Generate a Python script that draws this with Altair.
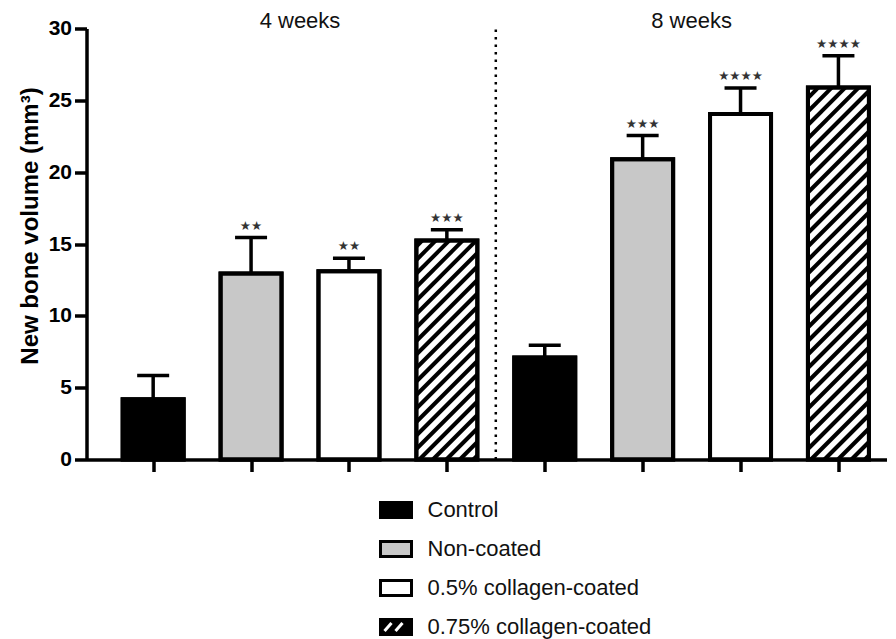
import altair as alt
import pandas as pd
import numpy as np

# ---------------- data ----------------
weeks = ["4 weeks", "8 weeks"]
groups = ["Control", "Non-coated", "0.5% collagen-coated", "0.75% collagen-coated"]
means_4w = [4.2, 12.95, 13.1, 15.25]
means_8w = [7.1, 20.9, 24.05, 25.9]
sd_4w = [1.65, 2.5, 0.9, 0.75]
sd_8w = [0.85, 1.65, 1.8, 2.2]
stars_4w = ["", "**", "**", "***"]
stars_8w = ["", "***", "****", "****"]
y_ticks = [0, 5, 10, 15, 20, 25, 30]

# ---------------- layout constants ----------------
W, H = 800, 431
X_DOMAIN = [0.319, 8.491]
Y_DOMAIN = [0, 30]
BAR_W = 61
HATCH_STEP = 13.5
FONT = "Liberation Sans"

rows = []
for wi, (wk, ms, sds, st) in enumerate(zip(weeks, [means_4w, means_8w], [sd_4w, sd_8w], [stars_4w, stars_8w])):
    for gi, g in enumerate(groups):
        rows.append(dict(week=wk, group=g, pos=wi * len(groups) + gi + 1,
                         mean=ms[gi], top=ms[gi] + sds[gi],
                         stars=st[gi].replace("*", "\u2605")))
df = pd.DataFrame(rows)

# hatch lines for the 0.75% bars (45 degree in pixel space)
kx = W / (X_DOMAIN[1] - X_DOMAIN[0])
ky = H / (Y_DOMAIN[1] - Y_DOMAIN[0])
hatch = []
for _, r in df[df.group == groups[3]].iterrows():
    hp = r["mean"] * ky
    wp = BAR_W
    t = -wp + 4
    while t < hp:
        u0 = max(0.0, -t)
        u1 = min(wp, hp - t)
        if u1 - u0 > 0.5:
            hatch.append(dict(x0=r.pos + (u0 - wp / 2) / kx, y0=(u0 + t) / ky,
                              x1=r.pos + (u1 - wp / 2) / kx, y1=(u1 + t) / ky))
        t += HATCH_STEP
hatch_df = pd.DataFrame(hatch)

week_df = df.groupby("week", as_index=False)["pos"].mean()
sep_df = pd.DataFrame({"x": [(df[df.week == weeks[0]].pos.max() + df[df.week == weeks[1]].pos.min()) / 2]})

x_scale = alt.Scale(domain=X_DOMAIN, nice=False, zero=False, padding=0)
y_scale = alt.Scale(domain=Y_DOMAIN, nice=False, padding=0)
fill_scale = alt.Scale(domain=groups, range=["#000000", "#c8c8c8", "#ffffff", "#ffffff"])

x_enc = alt.X("pos:Q", scale=x_scale,
              axis=alt.Axis(values=list(range(1, 9)), labels=False, title=None, grid=False,
                            tickSize=12, tickWidth=3.5, domainWidth=3.5,
                            tickColor="black", domainColor="black"))
y_enc = alt.Y("mean:Q", scale=y_scale,
              axis=alt.Axis(values=y_ticks, title="New bone volume (mm³)", grid=False,
                            tickSize=12, tickWidth=3.5, domainWidth=3.5,
                            tickColor="black", domainColor="black",
                            labelFont=FONT, labelFontSize=21, labelFontWeight="bold",
                            labelColor="black", labelPadding=3,
                            titleFont=FONT, titleFontSize=24, titleFontWeight="bold",
                            titleColor="black", titlePadding=6, titleY=197))

base = alt.Chart(df)
bars = base.mark_bar(width=BAR_W, stroke="black", strokeWidth=4).encode(
    x=x_enc, y=y_enc,
    fill=alt.Fill("group:N", scale=fill_scale, legend=None))
hatch_layer = alt.Chart(hatch_df).mark_rule(strokeWidth=4, color="black", strokeCap="butt").encode(
    x="x0:Q", x2="x1:Q", y="y0:Q", y2="y1:Q")
outline = base.mark_bar(width=BAR_W, fillOpacity=0, stroke="black", strokeWidth=4).encode(
    x="pos:Q", y="mean:Q")
stems = base.mark_rule(strokeWidth=3.5, color="black").encode(
    x="pos:Q", y="mean:Q", y2="top:Q")
caps = base.mark_tick(orient="horizontal", size=32, thickness=3.5, color="black", opacity=1).encode(
    x="pos:Q", y="top:Q")
star_txt = base.mark_text(dy=-12, fontSize=12.5, color="#333333", font="DejaVu Sans").encode(
    x="pos:Q", y="top:Q", text="stars:N")
sep = alt.Chart(sep_df).mark_rule(strokeDash=[2.5, 5], strokeWidth=2.5, color="black").encode(
    x="x:Q", y=alt.datum(0), y2=alt.datum(30))
week_txt = alt.Chart(week_df).mark_text(fontSize=22, font=FONT, color="#111111",
                                         baseline="alphabetic", dy=-1).encode(
    x="pos:Q", y=alt.datum(30), text="week:N")

main = alt.layer(bars, hatch_layer, outline, stems, caps, star_txt, sep, week_txt).properties(
    width=W, height=H)

# ---------------- legend ----------------
leg_df = pd.DataFrame({"item": groups})
y_leg = alt.Y("item:N", sort=groups, axis=None,
              scale=alt.Scale(type="point", domain=groups, padding=0.282))
leg_fill = alt.Scale(domain=groups, range=["#000000", "#c8c8c8", "#ffffff", "#000000"])
leg_sym = alt.Chart(leg_df).mark_point(shape="M-1,-0.48H1V0.48H-1Z", size=961, filled=True,
                                       stroke="black", strokeWidth=3, opacity=1).encode(
    x=alt.value(309.5), y=y_leg, fill=alt.Fill("item:N", scale=leg_fill, legend=None))
hatched = alt.Chart(leg_df[leg_df["item"] == groups[3]])
slash1 = hatched.mark_rule(color="white", strokeWidth=3, yOffset=4, y2Offset=-4).encode(
    x=alt.value(298), x2=alt.value(305), y=y_leg, y2=alt.Y2("item:N"))
slash2 = hatched.mark_rule(color="white", strokeWidth=3, yOffset=4, y2Offset=-4).encode(
    x=alt.value(309), x2=alt.value(316), y=y_leg, y2=alt.Y2("item:N"))
leg_txt = alt.Chart(leg_df).mark_text(align="left", baseline="middle", fontSize=22,
                                      font=FONT, color="#111111").encode(
    x=alt.value(341), y=y_leg, text="item:N")
legend = alt.layer(leg_sym, slash1, slash2, leg_txt).properties(width=W, height=139)

chart = alt.vconcat(main, legend, spacing=22.5).resolve_scale(
    fill="independent", y="independent", x="independent"
).properties(
    padding={"left": 9.5, "top": 1.5, "right": 0, "bottom": 0}, background="white"
).configure_view(stroke=None)

chart.save("out.html", embed_options={"renderer": "svg", "actions": False})
